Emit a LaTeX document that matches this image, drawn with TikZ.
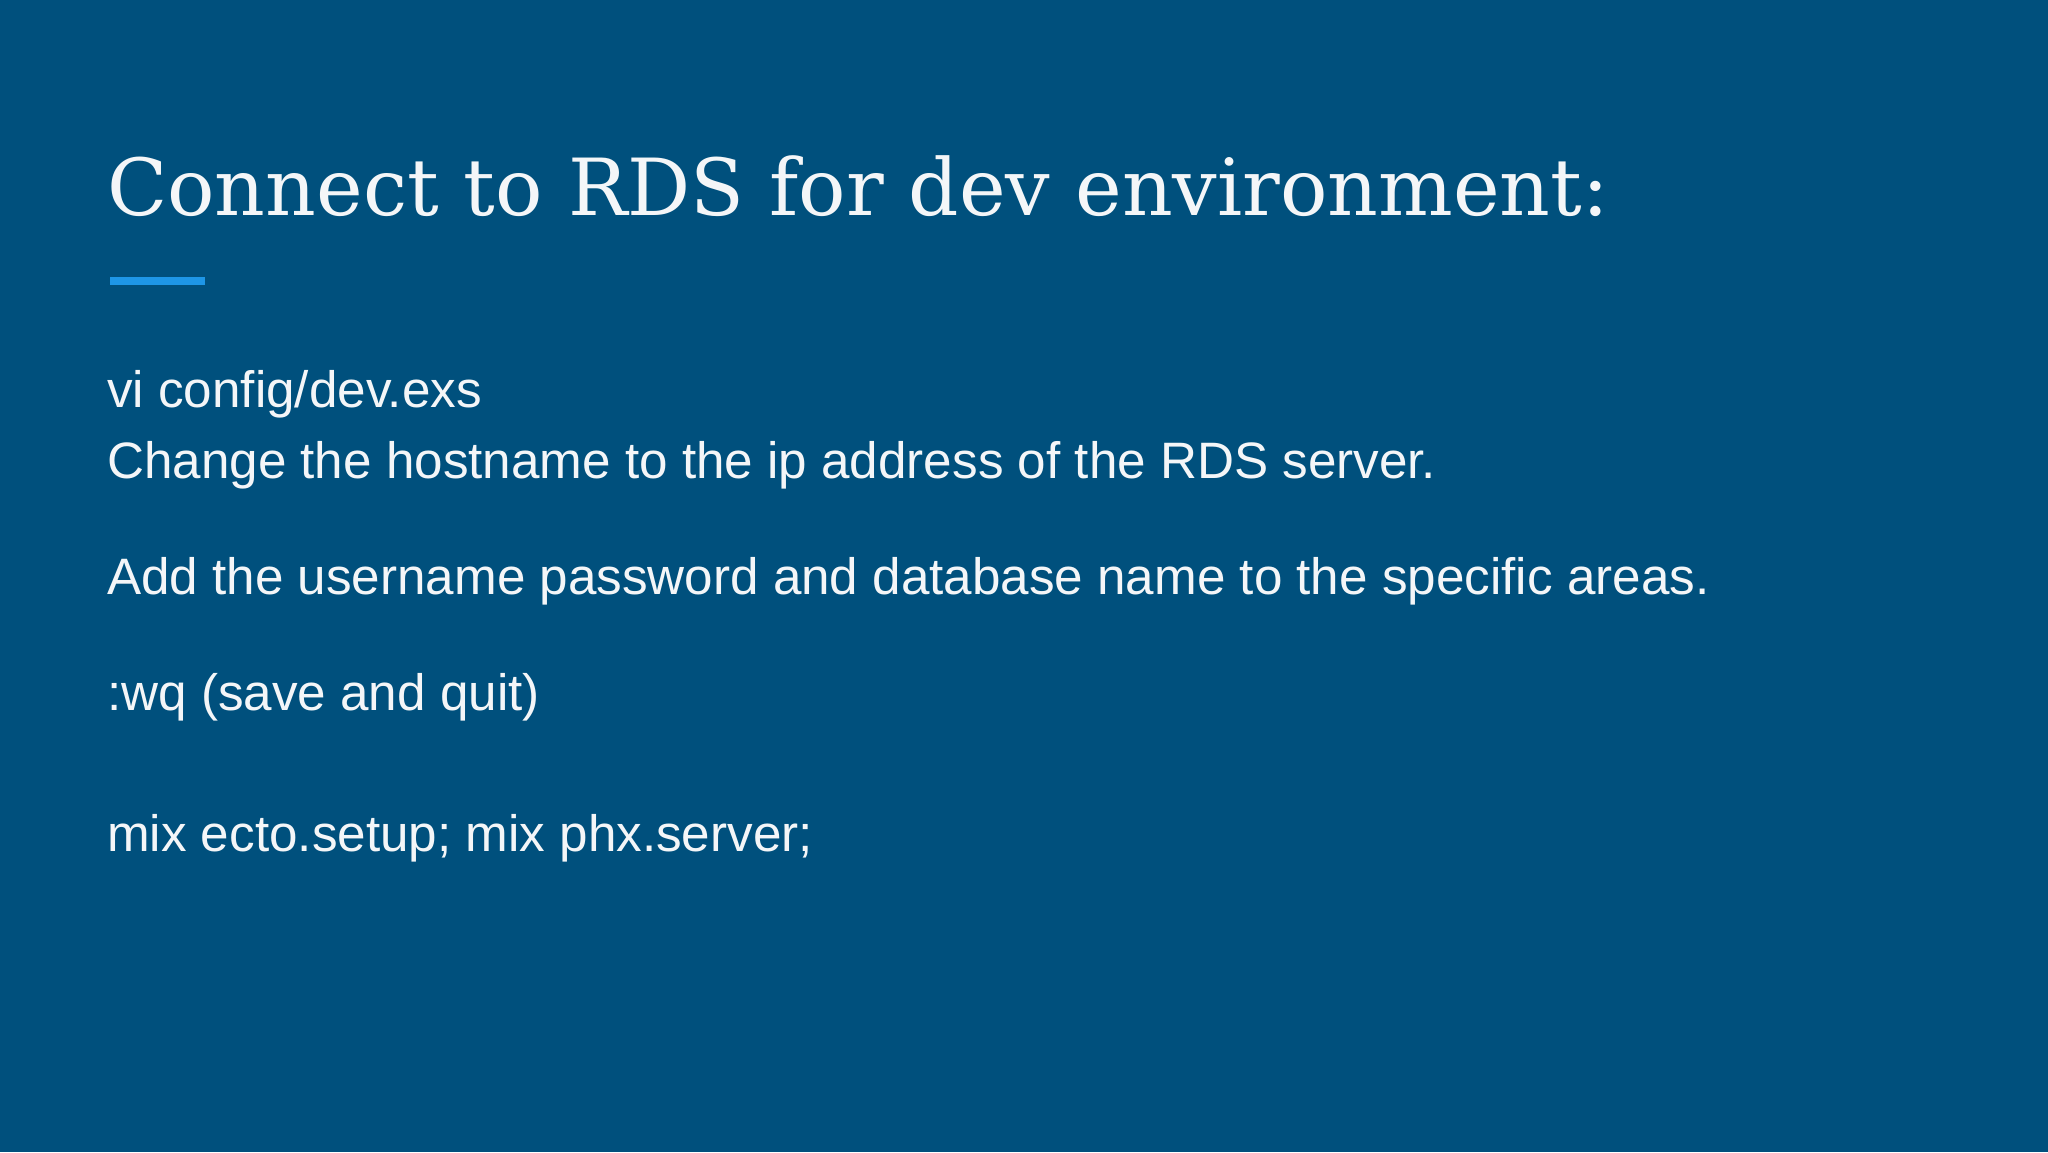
\documentclass[tikz,border=0pt]{standalone}
\usepackage{fontspec}
\setmainfont{Liberation Sans}
\newfontfamily\titlefont{DejaVu Serif}
\definecolor{bg}{HTML}{00507D}
\definecolor{accent}{HTML}{1E96E6}
\definecolor{fg}{HTML}{F4F6F8}
\begin{document}
\begin{tikzpicture}[x=1pt,y=-1pt,
  body/.style={anchor=base west,inner sep=0pt,text=fg,font=\fontsize{51.2}{60}\selectfont}]
\fill[bg] (0,0) rectangle (2048,1152);
\useasboundingbox (0,0) rectangle (2048,1152);
\node[anchor=base west,inner sep=0pt,text=fg,font=\titlefont\fontsize{78.8}{95}\selectfont] (title) at (107,215) {Connect to RDS for dev environment:};
\coordinate (a1) at (110,281);
\coordinate (a2) at (205,281);
\draw[accent,line width=8pt] (a1) -- (a2);
\node[body] (l1) at (107,407) {vi config/dev.exs};
\node[body] (l2) at (107,478) {Change the hostname to the ip address of the RDS server.};
\node[body] (l3) at (107,594) {Add the username password and database name to the specific areas.};
\node[body] (l4) at (107,710) {:wq (save and quit)};
\node[body] (l5) at (107,851) {mix ecto.setup; mix phx.server;};
\end{tikzpicture}
\end{document}
